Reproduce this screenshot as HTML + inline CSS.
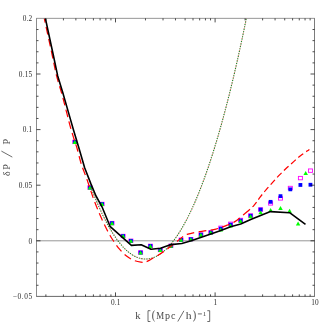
<!DOCTYPE html><html><head><meta charset="utf-8"><title>dP/P vs k</title><style>
html,body{margin:0;padding:0;background:#fff;}body{width:332px;height:332px;overflow:hidden;position:relative;font-family:"Liberation Serif",serif;}svg{position:absolute;left:0;top:0;}text{font-family:"Liberation Serif",serif;fill:#444;filter:grayscale(1);}
</style></head><body>
<svg width="332" height="332" viewBox="0 0 332 332">
<rect x="0" y="0" width="332" height="332" fill="#fff"/>
<line x1="36.50" y1="240.80" x2="314.50" y2="240.80" stroke="#969696" stroke-width="1"/>
<rect x="72.80" y="140.20" width="4" height="3.4" fill="none" stroke="#f0f" stroke-width="0.9"/>
<rect x="87.90" y="185.80" width="4" height="3.4" fill="none" stroke="#f0f" stroke-width="0.9"/>
<rect x="100.10" y="202.30" width="4" height="3.4" fill="none" stroke="#f0f" stroke-width="0.9"/>
<rect x="110.00" y="221.40" width="4" height="3.4" fill="none" stroke="#f0f" stroke-width="0.9"/>
<rect x="121.10" y="234.30" width="4" height="3.4" fill="none" stroke="#f0f" stroke-width="0.9"/>
<rect x="128.90" y="239.10" width="4" height="3.4" fill="none" stroke="#f0f" stroke-width="0.9"/>
<rect x="138.60" y="250.80" width="4" height="3.4" fill="none" stroke="#f0f" stroke-width="0.9"/>
<rect x="148.40" y="244.20" width="4" height="3.4" fill="none" stroke="#f0f" stroke-width="0.9"/>
<rect x="158.30" y="248.30" width="4" height="3.4" fill="none" stroke="#f0f" stroke-width="0.9"/>
<rect x="168.90" y="244.10" width="4" height="3.4" fill="none" stroke="#f0f" stroke-width="0.9"/>
<rect x="179.10" y="238.10" width="4" height="3.4" fill="none" stroke="#f0f" stroke-width="0.9"/>
<rect x="188.90" y="237.50" width="4" height="3.4" fill="none" stroke="#f0f" stroke-width="0.9"/>
<rect x="198.90" y="232.90" width="4" height="3.4" fill="none" stroke="#f0f" stroke-width="0.9"/>
<rect x="208.80" y="230.70" width="4" height="3.4" fill="none" stroke="#f0f" stroke-width="0.9"/>
<rect x="218.80" y="226.10" width="4" height="3.4" fill="none" stroke="#f0f" stroke-width="0.9"/>
<rect x="228.60" y="222.10" width="4" height="3.4" fill="none" stroke="#f0f" stroke-width="0.9"/>
<rect x="238.60" y="218.30" width="4" height="3.4" fill="none" stroke="#f0f" stroke-width="0.9"/>
<rect x="248.60" y="213.80" width="4" height="3.4" fill="none" stroke="#f0f" stroke-width="0.9"/>
<rect x="258.60" y="207.80" width="4" height="3.4" fill="none" stroke="#f0f" stroke-width="0.9"/>
<rect x="268.60" y="201.70" width="4" height="3.4" fill="none" stroke="#f0f" stroke-width="0.9"/>
<rect x="278.50" y="196.70" width="4" height="3.4" fill="none" stroke="#f0f" stroke-width="0.9"/>
<rect x="288.30" y="186.30" width="4" height="3.4" fill="none" stroke="#f0f" stroke-width="0.9"/>
<rect x="298.40" y="176.40" width="4" height="3.4" fill="none" stroke="#f0f" stroke-width="0.9"/>
<rect x="308.45" y="168.95" width="4" height="3.4" fill="none" stroke="#f0f" stroke-width="0.9"/>
<rect x="72.90" y="140.05" width="3.8" height="3.8" fill="#00f"/>
<rect x="88.00" y="185.65" width="3.8" height="3.8" fill="#00f"/>
<rect x="100.20" y="202.15" width="3.8" height="3.8" fill="#00f"/>
<rect x="110.10" y="221.25" width="3.8" height="3.8" fill="#00f"/>
<rect x="121.20" y="234.15" width="3.8" height="3.8" fill="#00f"/>
<rect x="129.00" y="238.95" width="3.8" height="3.8" fill="#00f"/>
<rect x="138.70" y="250.65" width="3.8" height="3.8" fill="#00f"/>
<rect x="148.50" y="244.05" width="3.8" height="3.8" fill="#00f"/>
<rect x="158.40" y="248.15" width="3.8" height="3.8" fill="#00f"/>
<rect x="169.00" y="243.95" width="3.8" height="3.8" fill="#00f"/>
<rect x="179.20" y="237.95" width="3.8" height="3.8" fill="#00f"/>
<rect x="189.00" y="237.35" width="3.8" height="3.8" fill="#00f"/>
<rect x="199.00" y="232.75" width="3.8" height="3.8" fill="#00f"/>
<rect x="208.90" y="230.55" width="3.8" height="3.8" fill="#00f"/>
<rect x="218.90" y="226.75" width="3.8" height="3.8" fill="#00f"/>
<rect x="228.70" y="222.75" width="3.8" height="3.8" fill="#00f"/>
<rect x="238.70" y="218.65" width="3.8" height="3.8" fill="#00f"/>
<rect x="248.70" y="213.85" width="3.8" height="3.8" fill="#00f"/>
<rect x="258.70" y="207.65" width="3.8" height="3.8" fill="#00f"/>
<rect x="268.70" y="199.95" width="3.8" height="3.8" fill="#00f"/>
<rect x="278.60" y="194.25" width="3.8" height="3.8" fill="#00f"/>
<rect x="288.40" y="187.45" width="3.8" height="3.8" fill="#00f"/>
<rect x="298.50" y="183.05" width="3.8" height="3.8" fill="#00f"/>
<rect x="308.55" y="182.85" width="3.8" height="3.8" fill="#00f"/>
<path d="M74.80,140.00 L77.05,143.95 L72.55,143.95 Z" fill="#0f0"/>
<path d="M89.90,185.60 L92.15,189.55 L87.65,189.55 Z" fill="#0f0"/>
<path d="M102.10,202.10 L104.35,206.05 L99.85,206.05 Z" fill="#0f0"/>
<path d="M112.00,221.20 L114.25,225.15 L109.75,225.15 Z" fill="#0f0"/>
<path d="M123.10,234.10 L125.35,238.05 L120.85,238.05 Z" fill="#0f0"/>
<path d="M130.90,238.90 L133.15,242.85 L128.65,242.85 Z" fill="#0f0"/>
<path d="M140.60,250.60 L142.85,254.55 L138.35,254.55 Z" fill="#0f0"/>
<path d="M150.40,244.00 L152.65,247.95 L148.15,247.95 Z" fill="#0f0"/>
<path d="M160.30,248.10 L162.55,252.05 L158.05,252.05 Z" fill="#0f0"/>
<path d="M170.90,243.90 L173.15,247.85 L168.65,247.85 Z" fill="#0f0"/>
<path d="M181.10,237.90 L183.35,241.85 L178.85,241.85 Z" fill="#0f0"/>
<path d="M190.90,237.30 L193.15,241.25 L188.65,241.25 Z" fill="#0f0"/>
<path d="M200.90,232.70 L203.15,236.65 L198.65,236.65 Z" fill="#0f0"/>
<path d="M210.80,230.50 L213.05,234.45 L208.55,234.45 Z" fill="#0f0"/>
<path d="M220.80,227.50 L223.05,231.45 L218.55,231.45 Z" fill="#0f0"/>
<path d="M230.60,223.50 L232.85,227.45 L228.35,227.45 Z" fill="#0f0"/>
<path d="M240.60,219.10 L242.85,223.05 L238.35,223.05 Z" fill="#0f0"/>
<path d="M250.60,214.20 L252.85,218.15 L248.35,218.15 Z" fill="#0f0"/>
<path d="M260.60,210.40 L262.85,214.35 L258.35,214.35 Z" fill="#0f0"/>
<path d="M270.60,208.10 L272.85,212.05 L268.35,212.05 Z" fill="#0f0"/>
<path d="M280.50,206.00 L282.75,209.95 L278.25,209.95 Z" fill="#0f0"/>
<path d="M289.60,208.70 L291.85,212.65 L287.35,212.65 Z" fill="#0f0"/>
<path d="M298.10,221.60 L300.35,225.55 L295.85,225.55 Z" fill="#0f0"/>
<path d="M305.70,171.10 L307.95,175.05 L303.45,175.05 Z" fill="#0f0"/>
<clipPath id="c"><rect x="36.50" y="18.40" width="278.00" height="278.00"/></clipPath>
<g clip-path="url(#c)" fill="none">
<path d="M91.00,187.33 L92.00,189.95 L93.00,192.52 L94.00,195.04 L95.00,197.51 L96.00,199.93 L97.00,202.31 L98.00,204.63 L99.00,206.91 L100.00,209.13 L101.00,211.31 L102.00,213.44 L103.00,215.52 L104.00,217.55 L105.00,219.53 L106.00,221.47 L107.00,223.35 L108.00,225.19 L109.00,226.97 L110.00,228.71 L111.00,230.40 L112.00,232.04 L113.00,233.63 L114.00,235.17 L115.00,236.67 L116.00,238.11 L117.00,239.51 L118.00,240.86 L119.00,242.15 L120.00,243.41 L121.00,244.61 L122.00,245.76 L123.00,246.87 L124.00,247.92 L125.00,248.93 L126.00,249.89 L127.00,250.80 L128.00,251.67 L129.00,252.48 L130.00,253.25 L131.00,253.97 L132.00,254.64 L133.00,255.27 L134.00,255.84 L135.00,256.37 L136.00,256.85 L137.00,257.28 L138.00,257.67 L139.00,258.00 L140.00,258.29 L141.00,258.54 L142.00,258.73 L143.00,258.88 L144.00,258.98 L145.00,259.03 L146.00,259.03 L147.00,258.99 L148.00,258.90 L149.00,258.76 L150.00,258.58 L151.00,258.35 L152.00,258.07 L153.00,257.74 L154.00,257.37 L155.00,256.95 L156.00,256.49 L157.00,255.97 L158.00,255.41 L159.00,254.81 L160.00,254.16 L161.00,253.46 L162.00,252.71 L163.00,251.92 L164.00,251.08 L165.00,250.19 L166.00,249.26 L167.00,248.28 L168.00,247.25 L169.00,246.18 L170.00,245.06 L171.00,243.89 L172.00,242.68 L173.00,241.42 L174.00,240.12 L175.00,238.77 L176.00,237.37 L177.00,235.92 L178.00,234.43 L179.00,232.90 L180.00,231.31 L181.00,229.68 L182.00,228.00 L183.00,226.28 L184.00,224.51 L185.00,222.69 L186.00,220.83 L187.00,218.92 L188.00,216.96 L189.00,214.96 L190.00,212.91 L191.00,210.81 L192.00,208.67 L193.00,206.48 L194.00,204.24 L195.00,201.96 L196.00,199.63 L197.00,197.25 L198.00,194.82 L199.00,192.35 L200.00,189.82 L201.00,187.26 L202.00,184.64 L203.00,181.97 L204.00,179.26 L205.00,176.50 L206.00,173.69 L207.00,170.84 L208.00,167.93 L209.00,164.98 L210.00,161.98 L211.00,158.93 L212.00,155.83 L213.00,152.68 L214.00,149.49 L215.00,146.24 L216.00,142.94 L217.00,139.60 L218.00,136.20 L219.00,132.76 L220.00,129.26 L221.00,125.71 L222.00,122.12 L223.00,118.47 L224.00,114.77 L225.00,111.02 L226.00,107.22 L227.00,103.37 L228.00,99.47 L229.00,95.51 L230.00,91.50 L231.00,87.44 L232.00,83.32 L233.00,79.16 L234.00,74.93 L235.00,70.66 L236.00,66.33 L237.00,61.95 L238.00,57.51 L239.00,53.02 L240.00,48.47 L241.00,43.86 L242.00,39.20 L243.00,34.49 L244.00,29.72 L245.00,24.89 L246.00,20.00 L247.00,15.05 L248.00,10.05" stroke="#e83030" stroke-width="1.0" stroke-dasharray="0.7 1.8" stroke-dashoffset="1.6"/>
<path d="M91.00,187.33 L92.00,189.95 L93.00,192.52 L94.00,195.04 L95.00,197.51 L96.00,199.93 L97.00,202.31 L98.00,204.63 L99.00,206.91 L100.00,209.13 L101.00,211.31 L102.00,213.44 L103.00,215.52 L104.00,217.55 L105.00,219.53 L106.00,221.47 L107.00,223.35 L108.00,225.19 L109.00,226.97 L110.00,228.71 L111.00,230.40 L112.00,232.04 L113.00,233.63 L114.00,235.17 L115.00,236.67 L116.00,238.11 L117.00,239.51 L118.00,240.86 L119.00,242.15 L120.00,243.41 L121.00,244.61 L122.00,245.76 L123.00,246.87 L124.00,247.92 L125.00,248.93 L126.00,249.89 L127.00,250.80 L128.00,251.67 L129.00,252.48 L130.00,253.25 L131.00,253.97 L132.00,254.64 L133.00,255.27 L134.00,255.84 L135.00,256.37 L136.00,256.85 L137.00,257.28 L138.00,257.67 L139.00,258.00 L140.00,258.29 L141.00,258.54 L142.00,258.73 L143.00,258.88 L144.00,258.98 L145.00,259.03 L146.00,259.03 L147.00,258.99 L148.00,258.90 L149.00,258.76 L150.00,258.58 L151.00,258.35 L152.00,258.07 L153.00,257.74 L154.00,257.37 L155.00,256.95 L156.00,256.49 L157.00,255.97 L158.00,255.41 L159.00,254.81 L160.00,254.16 L161.00,253.46 L162.00,252.71 L163.00,251.92 L164.00,251.08 L165.00,250.19 L166.00,249.26 L167.00,248.28 L168.00,247.25 L169.00,246.18 L170.00,245.06 L171.00,243.89 L172.00,242.68 L173.00,241.42 L174.00,240.12 L175.00,238.77 L176.00,237.37 L177.00,235.92 L178.00,234.43 L179.00,232.90 L180.00,231.31 L181.00,229.68 L182.00,228.00 L183.00,226.28 L184.00,224.51 L185.00,222.69 L186.00,220.83 L187.00,218.92 L188.00,216.96 L189.00,214.96 L190.00,212.91 L191.00,210.81 L192.00,208.67 L193.00,206.48 L194.00,204.24 L195.00,201.96 L196.00,199.63 L197.00,197.25 L198.00,194.82 L199.00,192.35 L200.00,189.82 L201.00,187.26 L202.00,184.64 L203.00,181.97 L204.00,179.26 L205.00,176.50 L206.00,173.69 L207.00,170.84 L208.00,167.93 L209.00,164.98 L210.00,161.98 L211.00,158.93 L212.00,155.83 L213.00,152.68 L214.00,149.49 L215.00,146.24 L216.00,142.94 L217.00,139.60 L218.00,136.20 L219.00,132.76 L220.00,129.26 L221.00,125.71 L222.00,122.12 L223.00,118.47 L224.00,114.77 L225.00,111.02 L226.00,107.22 L227.00,103.37 L228.00,99.47 L229.00,95.51 L230.00,91.50 L231.00,87.44 L232.00,83.32 L233.00,79.16 L234.00,74.93 L235.00,70.66 L236.00,66.33 L237.00,61.95 L238.00,57.51 L239.00,53.02 L240.00,48.47 L241.00,43.86 L242.00,39.20 L243.00,34.49 L244.00,29.72 L245.00,24.89 L246.00,20.00 L247.00,15.05 L248.00,10.05" stroke="#08801a" stroke-width="1.12" stroke-dasharray="1.0 1.5"/>
<clipPath id="c1"><rect x="36.50" y="18.40" width="209.50" height="278.00"/></clipPath>
<clipPath id="c2"><rect x="246.00" y="18.40" width="68.50" height="278.00"/></clipPath>
<path clip-path="url(#c1)" d="M44.10,17.50 C45.48,23.92 50.32,46.27 52.40,56.00 C54.48,65.73 55.00,69.50 56.60,75.90 C58.20,82.30 60.35,88.40 62.00,94.40 C63.65,100.40 65.05,106.28 66.50,111.90 C67.95,117.52 69.45,123.58 70.70,128.10 C71.95,132.62 72.93,135.60 74.00,139.00 C75.07,142.40 75.88,144.32 77.10,148.50 C78.32,152.68 79.71,159.10 81.30,164.10 C82.89,169.10 84.95,173.70 86.65,178.50 C88.35,183.30 90.19,189.10 91.50,192.90 C92.81,196.70 93.15,197.77 94.50,201.30 C95.85,204.83 97.73,209.77 99.60,214.10 C101.47,218.43 103.98,223.78 105.70,227.30 C107.42,230.82 108.65,233.00 109.90,235.20 C111.15,237.40 111.63,238.22 113.20,240.50 C114.77,242.78 117.08,246.30 119.30,248.90 C121.52,251.50 124.10,254.20 126.50,256.10 C128.90,258.00 131.30,259.30 133.70,260.30 C136.10,261.30 138.88,261.83 140.90,262.10 C142.92,262.37 144.22,262.30 145.80,261.90 C147.38,261.50 148.42,260.77 150.40,259.70 C152.38,258.63 155.28,257.00 157.70,255.50 C160.12,254.00 162.50,252.40 164.90,250.70 C167.30,249.00 169.90,246.98 172.10,245.30 C174.30,243.62 176.12,242.20 178.10,240.60 C180.08,239.00 182.35,236.78 184.00,235.70 C185.65,234.62 186.79,234.50 188.00,234.10 C189.21,233.70 189.30,233.72 191.25,233.30 C193.20,232.88 196.89,232.08 199.70,231.60 C202.51,231.12 205.39,230.82 208.10,230.40 C210.81,229.98 213.17,229.82 215.95,229.10 C218.73,228.38 221.71,227.30 224.80,226.10 C227.89,224.90 231.48,223.70 234.50,221.90 C237.52,220.10 239.68,218.02 242.90,215.30 C246.12,212.58 250.97,208.58 253.80,205.60 C256.63,202.62 257.83,200.07 259.90,197.40 C261.97,194.73 264.00,192.18 266.20,189.60 C268.40,187.02 270.83,184.40 273.10,181.90 C275.37,179.40 277.52,176.95 279.80,174.60 C282.08,172.25 284.48,169.97 286.80,167.80 C289.12,165.63 291.42,163.62 293.70,161.60 C295.98,159.58 298.27,157.47 300.50,155.70 C302.73,153.93 305.57,152.05 307.05,151.00 C308.53,149.95 309.01,149.67 309.40,149.40" stroke="#f00" stroke-width="1.25" stroke-dasharray="7.8 4.33" stroke-dashoffset="2.47"/>
<path clip-path="url(#c2)" d="M44.10,17.50 C45.48,23.92 50.32,46.27 52.40,56.00 C54.48,65.73 55.00,69.50 56.60,75.90 C58.20,82.30 60.35,88.40 62.00,94.40 C63.65,100.40 65.05,106.28 66.50,111.90 C67.95,117.52 69.45,123.58 70.70,128.10 C71.95,132.62 72.93,135.60 74.00,139.00 C75.07,142.40 75.88,144.32 77.10,148.50 C78.32,152.68 79.71,159.10 81.30,164.10 C82.89,169.10 84.95,173.70 86.65,178.50 C88.35,183.30 90.19,189.10 91.50,192.90 C92.81,196.70 93.15,197.77 94.50,201.30 C95.85,204.83 97.73,209.77 99.60,214.10 C101.47,218.43 103.98,223.78 105.70,227.30 C107.42,230.82 108.65,233.00 109.90,235.20 C111.15,237.40 111.63,238.22 113.20,240.50 C114.77,242.78 117.08,246.30 119.30,248.90 C121.52,251.50 124.10,254.20 126.50,256.10 C128.90,258.00 131.30,259.30 133.70,260.30 C136.10,261.30 138.88,261.83 140.90,262.10 C142.92,262.37 144.22,262.30 145.80,261.90 C147.38,261.50 148.42,260.77 150.40,259.70 C152.38,258.63 155.28,257.00 157.70,255.50 C160.12,254.00 162.50,252.40 164.90,250.70 C167.30,249.00 169.90,246.98 172.10,245.30 C174.30,243.62 176.12,242.20 178.10,240.60 C180.08,239.00 182.35,236.78 184.00,235.70 C185.65,234.62 186.79,234.50 188.00,234.10 C189.21,233.70 189.30,233.72 191.25,233.30 C193.20,232.88 196.89,232.08 199.70,231.60 C202.51,231.12 205.39,230.82 208.10,230.40 C210.81,229.98 213.17,229.82 215.95,229.10 C218.73,228.38 221.71,227.30 224.80,226.10 C227.89,224.90 231.48,223.70 234.50,221.90 C237.52,220.10 239.68,218.02 242.90,215.30 C246.12,212.58 250.97,208.58 253.80,205.60 C256.63,202.62 257.83,200.07 259.90,197.40 C261.97,194.73 264.00,192.18 266.20,189.60 C268.40,187.02 270.83,184.40 273.10,181.90 C275.37,179.40 277.52,176.95 279.80,174.60 C282.08,172.25 284.48,169.97 286.80,167.80 C289.12,165.63 291.42,163.62 293.70,161.60 C295.98,159.58 298.27,157.47 300.50,155.70 C302.73,153.93 305.57,152.05 307.05,151.00 C308.53,149.95 309.01,149.67 309.40,149.40" stroke="#f00" stroke-width="1.25" stroke-dasharray="6.3 3.37" stroke-dashoffset="8.23"/>
<path d="M45.20,17.50 L53.50,56.00 L57.70,75.90 L62.60,92.00 L68.30,111.90 L73.50,130.00 L78.90,147.90 L84.65,167.80 L90.90,183.90 L96.00,196.00 L102.00,206.80 L110.00,226.30 L131.40,245.40 L141.20,244.70 L151.00,249.30 L160.50,248.20 L171.00,244.60 L181.80,243.50 L191.25,240.70 L202.10,236.90 L210.80,233.90 L220.90,230.50 L230.60,226.70 L240.70,224.10 L250.70,219.50 L260.60,215.40 L270.50,211.60 L289.60,212.70 L305.50,224.30" stroke="#000" stroke-width="1.6" stroke-linejoin="round"/>
</g>
<path d="M36.30,18.35 H314.75" stroke="#000" stroke-width="0.42"/>
<path d="M36.30,296.40 H314.75" stroke="#000" stroke-width="0.6"/>
<path d="M36.50,18.40 V296.40" stroke="#000" stroke-width="0.46"/>
<path d="M314.50,18.40 V296.40" stroke="#000" stroke-width="0.52"/>
<path d="M45.88,296.40 v-2.00 M45.88,18.40 v2.00 M63.42,296.40 v-2.00 M63.42,18.40 v2.00 M75.87,296.40 v-2.00 M75.87,18.40 v2.00 M85.52,296.40 v-2.00 M85.52,18.40 v2.00 M93.40,296.40 v-2.00 M93.40,18.40 v2.00 M100.07,296.40 v-2.00 M100.07,18.40 v2.00 M105.85,296.40 v-2.00 M105.85,18.40 v2.00 M110.94,296.40 v-2.00 M110.94,18.40 v2.00 M115.50,296.40 v-4.00 M115.50,18.40 v4.00 M145.48,296.40 v-2.00 M145.48,18.40 v2.00 M163.02,296.40 v-2.00 M163.02,18.40 v2.00 M175.47,296.40 v-2.00 M175.47,18.40 v2.00 M185.12,296.40 v-2.00 M185.12,18.40 v2.00 M193.00,296.40 v-2.00 M193.00,18.40 v2.00 M199.67,296.40 v-2.00 M199.67,18.40 v2.00 M205.45,296.40 v-2.00 M205.45,18.40 v2.00 M210.54,296.40 v-2.00 M210.54,18.40 v2.00 M215.10,296.40 v-4.00 M215.10,18.40 v4.00 M245.08,296.40 v-2.00 M245.08,18.40 v2.00 M262.62,296.40 v-2.00 M262.62,18.40 v2.00 M275.07,296.40 v-2.00 M275.07,18.40 v2.00 M284.72,296.40 v-2.00 M284.72,18.40 v2.00 M292.60,296.40 v-2.00 M292.60,18.40 v2.00 M299.27,296.40 v-2.00 M299.27,18.40 v2.00 M305.05,296.40 v-2.00 M305.05,18.40 v2.00 M310.14,296.40 v-2.00 M310.14,18.40 v2.00 M36.50,285.28 h2.00 M314.50,285.28 h-2.00 M36.50,274.16 h2.00 M314.50,274.16 h-2.00 M36.50,263.04 h2.00 M314.50,263.04 h-2.00 M36.50,251.92 h2.00 M314.50,251.92 h-2.00 M36.50,240.80 h4.00 M314.50,240.80 h-4.00 M36.50,229.68 h2.00 M314.50,229.68 h-2.00 M36.50,218.56 h2.00 M314.50,218.56 h-2.00 M36.50,207.44 h2.00 M314.50,207.44 h-2.00 M36.50,196.32 h2.00 M314.50,196.32 h-2.00 M36.50,185.20 h4.00 M314.50,185.20 h-4.00 M36.50,174.08 h2.00 M314.50,174.08 h-2.00 M36.50,162.96 h2.00 M314.50,162.96 h-2.00 M36.50,151.84 h2.00 M314.50,151.84 h-2.00 M36.50,140.72 h2.00 M314.50,140.72 h-2.00 M36.50,129.60 h4.00 M314.50,129.60 h-4.00 M36.50,118.48 h2.00 M314.50,118.48 h-2.00 M36.50,107.36 h2.00 M314.50,107.36 h-2.00 M36.50,96.24 h2.00 M314.50,96.24 h-2.00 M36.50,85.12 h2.00 M314.50,85.12 h-2.00 M36.50,74.00 h4.00 M314.50,74.00 h-4.00 M36.50,62.88 h2.00 M314.50,62.88 h-2.00 M36.50,51.76 h2.00 M314.50,51.76 h-2.00 M36.50,40.64 h2.00 M314.50,40.64 h-2.00 M36.50,29.52 h2.00 M314.50,29.52 h-2.00" stroke="#000" stroke-width="0.70" fill="none"/>
<g opacity="0.99">
<text x="32.40" y="21.10" font-size="7.3" text-anchor="end" letter-spacing="0.20" style="fill:#2a2a2a">0.2</text>
<text x="32.40" y="76.70" font-size="7.3" text-anchor="end" letter-spacing="0.20" style="fill:#2a2a2a">0.15</text>
<text x="32.40" y="132.30" font-size="7.3" text-anchor="end" letter-spacing="0.20" style="fill:#2a2a2a">0.1</text>
<text x="32.40" y="187.90" font-size="7.3" text-anchor="end" letter-spacing="0.20" style="fill:#2a2a2a">0.05</text>
<text x="32.40" y="243.50" font-size="7.3" text-anchor="end" letter-spacing="0.20" style="fill:#2a2a2a">0</text>
<text x="32.85" y="299.10" font-size="7.3" text-anchor="end" letter-spacing="0.65" style="fill:#2a2a2a">−0.05</text>
<text x="115.80" y="305.4" font-size="7.3" text-anchor="middle" letter-spacing="0.2" style="fill:#2a2a2a">0.1</text>
<text x="215.40" y="305.4" font-size="7.3" text-anchor="middle" letter-spacing="0.2" style="fill:#2a2a2a">1</text>
<text x="315.00" y="305.4" font-size="7.3" text-anchor="middle" letter-spacing="0.2" style="fill:#2a2a2a">10</text>
<text transform="translate(138.00,318.90) scale(1.000,1)" font-size="10.60" text-anchor="middle">k</text>
<text transform="translate(160.15,318.90) scale(0.840,1)" font-size="10.60" text-anchor="middle">M</text>
<text transform="translate(167.50,318.90) scale(0.950,1)" font-size="10.60" text-anchor="middle">p</text>
<text transform="translate(173.30,318.90) scale(0.950,1)" font-size="10.60" text-anchor="middle">c</text>
<text transform="translate(188.65,318.90) scale(1.100,1)" font-size="10.60" text-anchor="middle">h</text>
<text transform="translate(153.6,318.9) scale(0.95,1.1)" font-size="11" text-anchor="middle">(</text>
<text transform="translate(194.4,318.9) scale(0.95,1.1)" font-size="11" text-anchor="middle">)</text>
<path d="M150.4,310.7 H148.0 V321.5 H150.4 M207.3,310.7 H209.7 V321.5 H207.3 M177.8,321.5 L183.9,310.8 M197.9,313.9 H201.9" stroke="#3a3a3a" stroke-width="0.75" fill="none"/>
<text transform="translate(204.40,316.20) scale(1.000,1)" font-size="7.00" text-anchor="middle">1</text>
<g transform="translate(9.8,0) rotate(-90)">
<text transform="translate(-173.60,0) scale(0.950,1)" font-size="10.60" text-anchor="middle">δ</text>
<text transform="translate(-166.90,0) scale(0.950,1)" font-size="10.60" text-anchor="middle">P</text>
<text transform="translate(-141.75,0) scale(0.950,1)" font-size="10.60" text-anchor="middle">P</text>
</g>
<path d="M12.3,157.1 L1.4,151.1" stroke="#3a3a3a" stroke-width="0.75" fill="none"/>
</g>
</svg></body></html>
